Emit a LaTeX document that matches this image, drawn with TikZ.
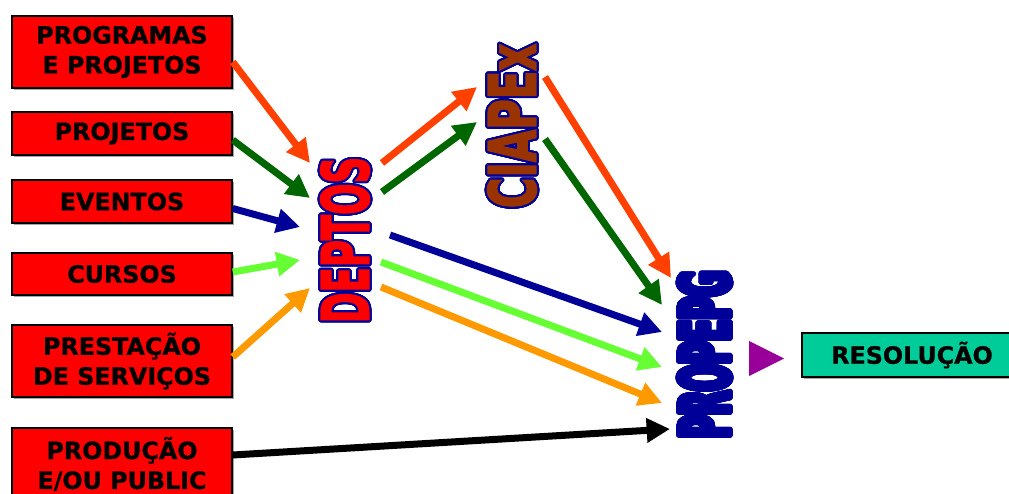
\documentclass[tikz,border=0pt]{standalone}
\usepackage{fontspec}
\setmainfont{DejaVu Sans}[BoldFeatures={FakeBold=0.8}]
\newfontfamily\heavyfont{DejaVu Sans Bold}[FakeBold=3]
\usepackage{graphicx}
\usepackage{contour}
\usetikzlibrary{arrows.meta, calc, shadows}
\definecolor{BoxRed}{RGB}{255,0,0}
\definecolor{ResGreen}{RGB}{0,204,153}
\definecolor{ArrRed}{RGB}{255,64,0}
\definecolor{ArrGreen}{RGB}{0,102,0}
\definecolor{ArrNavy}{RGB}{0,0,153}
\definecolor{ArrLime}{RGB}{102,255,51}
\definecolor{ArrOrange}{RGB}{255,153,0}
\definecolor{TriPurple}{RGB}{153,0,153}
\definecolor{CiaBrown}{RGB}{153,51,0}
\contourlength{0.6mm}
\contournumber{32}
\newcommand{\tallword}[3]{\contour{ArrNavy}{\resizebox{#2}{#3}{\heavyfont #1}}}

\begin{document}
\begin{tikzpicture}[x=0.3mm, y=-0.3mm,
    box/.style={rectangle, draw=black, line width=0.45mm, fill=BoxRed,
                minimum width=66mm, inner sep=0pt, align=center,
                font=\fontsize{20.3}{25.5}\selectfont\bfseries,
                drop shadow={shadow xshift=0.5mm, shadow yshift=-0.5mm,
                             fill=black!35, opacity=1}},
    arr/.style={-{Triangle[length=7mm, width=7mm]}, line width=2.1mm},
    word/.style={rotate=90, inner sep=0pt}
  ]
  \useasboundingbox (0,0) rectangle (1009,494);

  % source boxes
  \node[box, minimum height=21.6mm] (prog)  at (122,52)    {PROGRAMAS\\E PROJETOS};
  \node[box, minimum height=12.9mm] (proj)  at (122,133.5) {PROJETOS};
  \node[box, minimum height=12.9mm] (even)  at (122,201.5) {EVENTOS};
  \node[box, minimum height=12.6mm] (curs)  at (122,274)   {CURSOS};
  \node[box, minimum height=21.6mm] (prest) at (122,361)   {PRESTAÇÃO\\DE SERVIÇOS};
  \node[box, minimum height=21.6mm] (prod)  at (122,464)   {PRODUÇÃO\\E/OU PUBLIC};

  % vertical words
  \node[word, text=BoxRed]    (deptos) at (346,240)     {\tallword{DEPTOS}{49.9mm}{14.4mm}};
  \node[word, text=CiaBrown]  (ciapex) at (513,126)     {\tallword{CIAPEx}{49.3mm}{14.4mm}};
  \node[word, text=ArrNavy]   (propepg) at (705.5,354.5) {\tallword{PROPEPG}{50.2mm}{15.3mm}};

  % result
  \node[box, fill=ResGreen, minimum height=13.2mm] (resol) at (912,355) {RESOLUÇÃO};
  \fill[TriPurple] (749,341) -- (784,358.5) -- (749,376) -- cycle;

  % arrow ends
  \coordinate (dIn1) at (310,163);
  \coordinate (dIn2) at (310,198);
  \coordinate (dIn3) at (300,227);
  \coordinate (dIn4) at (300,260);
  \coordinate (dIn5) at (310,288);
  \coordinate (dOut1) at (382,163);
  \coordinate (dOut2) at (382,192);
  \coordinate (dOut3) at (390,235);
  \coordinate (dOut4) at (381,262);
  \coordinate (dOut5) at (381,287);
  \coordinate (cIn1) at (477,87);
  \coordinate (cIn2) at (477,122);
  \coordinate (cOut1) at (545,77);
  \coordinate (cOut2) at (545,139);
  \coordinate (pIn1) at (671,278);
  \coordinate (pIn2) at (662,305);
  \coordinate (pIn3) at (662,332);
  \coordinate (pIn4) at (662,367);
  \coordinate (pIn5) at (662,403);
  \coordinate (pIn6) at (670,429);

  % into DEPTOS
  \draw[arr, ArrRed]    ($(prog.east)+(0,10)$)   -- (dIn1);
  \draw[arr, ArrGreen]  ($(proj.east)+(0,6.5)$)  -- (dIn2);
  \draw[arr, ArrNavy]   ($(even.east)+(0,7)$)    -- (dIn3);
  \draw[arr, ArrLime]   ($(curs.east)+(0,-2)$)   -- (dIn4);
  \draw[arr, ArrOrange] ($(prest.east)+(0,-4)$)  -- (dIn5);

  % DEPTOS onwards
  \draw[arr, ArrRed]    (dOut1) -- (cIn1);
  \draw[arr, ArrGreen]  (dOut2) -- (cIn2);
  \draw[arr, ArrNavy]   (dOut3) -- (pIn3);
  \draw[arr, ArrLime]   (dOut4) -- (pIn4);
  \draw[arr, ArrOrange] (dOut5) -- (pIn5);

  % CIAPEx to PROPEPG
  \draw[arr, ArrRed]    (cOut1) -- (pIn1);
  \draw[arr, ArrGreen]  (cOut2) -- (pIn2);

  % production straight to PROPEPG
  \draw[arr, black] ($(prod.east)+(0,-9)$) -- (pIn6);
\end{tikzpicture}
\end{document}
